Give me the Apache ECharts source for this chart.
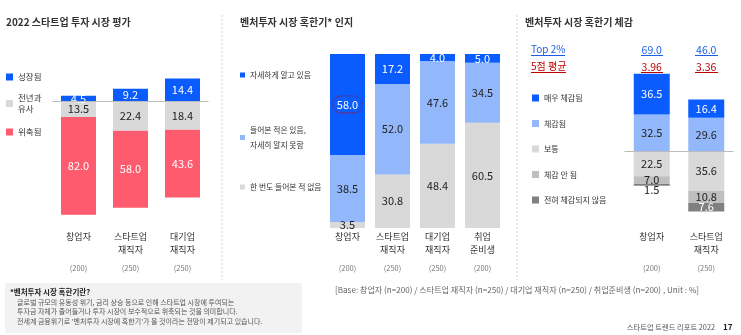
<!DOCTYPE html>
<html><head><meta charset="utf-8">
<script src="https://cdn.jsdelivr.net/npm/echarts@6/dist/echarts.min.js"></script>
<style>html,body{margin:0;padding:0;background:#fff}#c{width:741px;height:335px}</style>
</head><body><div id="c"></div>
<script>
// ---- data ----
const L_CATS = ['창업자', '스타트업\n재직자', '대기업\n재직자'];
const L_N = ['(200)', '(250)', '(250)'];
const L_GROW = [4.5, 9.2, 14.4];
const L_SAME = [13.5, 22.4, 18.4];
const L_SHRINK = [82.0, 58.0, 43.6];

const M_CATS = ['창업자', '스타트업\n재직자', '대기업\n재직자', '취업\n준비생'];
const M_N = ['(200)', '(250)', '(250)', '(200)'];
const M_KNOW = [58.0, 17.2, 4.0, 5.0];
const M_HEARD = [38.5, 52.0, 47.6, 34.5];
const M_NEVER = [3.5, 30.8, 48.4, 60.5];

const R_CATS = ['창업자', '스타트업\n재직자'];
const R_N = ['(200)', '(250)'];
const R_VERY = [36.5, 16.4];
const R_FELT = [32.5, 29.6];
const R_NORMAL = [22.5, 35.6];
const R_NOT = [7.0, 10.8];
const R_NONE = [1.5, 7.6];
const R_TOP2 = [69.0, 46.0];
const R_AVG = [3.96, 3.36];

// ---- styles ----
const FONT = '"Noto Sans CJK KR", "Noto Sans", sans-serif';
const BLUE = '#0b5cff', LBLUE = '#93b7fb', GRAY = '#d9d9d9', RED = '#ff5b6e', MGRAY = '#bfbfbf', DGRAY = '#808080';
const DARK = '#222';

const L_TOTAL = L_CATS.map((_, i) => L_GROW[i] + L_SAME[i] + L_SHRINK[i]);
const share = (arr, sign) => arr.map((v, i) => sign * v / L_TOTAL[i] * 100);

function bar(name, axis, raw, plot, color, labelColor, stack, barWidth, itemLabel) {
  return {
    name, type: 'bar', xAxisIndex: axis, yAxisIndex: axis, stack, barWidth,
    itemStyle: { color },
    label: { show: true, position: 'inside', color: labelColor, fontSize: 11, fontFamily: FONT,
      formatter: p => raw[p.dataIndex].toFixed(1) },
    data: plot.map((v, i) => {
      const d = { value: v };
      if (itemLabel && itemLabel[i]) d.label = itemLabel[i];
      return d;
    }),
    emphasis: { disabled: true }
  };
}

function catLabel(cats, ns) {
  return (v, i) => {
    const p = cats[i].split('\n');
    return '{c|' + p[0] + '}\n{c|' + (p[1] || ' ') + '}\n{n|' + ns[i] + '}';
  };
}
const catRich = { c: { fontSize: 9, lineHeight: 13, color: '#333', fontFamily: FONT },
                  n: { fontSize: 7.5, lineHeight: 23, color: '#777', fontFamily: FONT } };

function xCat(grid, cats, ns, margin) {
  return { type: 'category', gridIndex: grid, data: cats, position: 'bottom',
    axisLine: { show: false }, axisTick: { show: false },
    axisLabel: { interval: 0, margin, formatter: catLabel(cats, ns), rich: catRich } };
}

const zeroLine = { silent: true, symbol: 'none', label: { show: false },
  lineStyle: { color: '#bbb', type: 'solid', width: 1 }, data: [{ yAxis: 0 }] };

const series = [
  // left
  Object.assign(bar('성장됨', 0, L_GROW, share(L_GROW, 1), BLUE, '#fff', 'L', 35), { markLine: zeroLine }),
  bar('전년과\n유사', 0, L_SAME, share(L_SAME, -1), GRAY, DARK, 'L', 35),
  bar('위축됨', 0, L_SHRINK, share(L_SHRINK, -1), RED, '#fff', 'L', 35),
  // middle
  bar('한 번도 들어본 적 없음', 1, M_NEVER, M_NEVER, GRAY, DARK, 'M', 35),
  bar('들어본 적은 있음,\n자세히 알지 못함', 1, M_HEARD, M_HEARD, LBLUE, DARK, 'M', 35),
  bar('자세하게 알고 있음', 1, M_KNOW, M_KNOW, BLUE, '#fff', 'M', 35,
    [{ borderColor: '#c00000', borderWidth: 1, borderType: 'dotted', borderRadius: 9, padding: [3, 4] }]),
  // right
  Object.assign(bar('체감됨', 2, R_FELT, R_FELT, LBLUE, DARK, 'R', 36), { markLine: zeroLine }),
  bar('매우 체감됨', 2, R_VERY, R_VERY, BLUE, '#fff', 'R', 36),
  bar('보통', 2, R_NORMAL, R_NORMAL.map(v => -v), GRAY, DARK, 'R', 36),
  bar('체감 안 됨', 2, R_NOT, R_NOT.map(v => -v), MGRAY, DARK, 'R', 36),
  bar('전혀 체감되지 않음', 2, R_NONE, R_NONE.map(v => -v), DGRAY, '#fff', 'R', 36,
    [{ color: DARK, offset: [0, 5] }])
];

const legBase = { orient: 'vertical', padding: 0, selectedMode: false, icon: 'rect',
  itemWidth: 7, itemHeight: 7, textStyle: { fontSize: 8.5, color: '#333', fontFamily: FONT, lineHeight: 11 } };
const legMid = Object.assign({}, legBase, { itemWidth: 5, itemHeight: 5,
  textStyle: { fontSize: 7.8, color: '#333', fontFamily: FONT, lineHeight: 15 } });

const txt = (text, x, y, size, color, weight, align) => ({
  type: 'text', x, y, silent: true,
  style: { text, fill: color, fontSize: size, fontWeight: weight || 'normal', fontFamily: FONT,
    verticalAlign: 'middle', align: align || 'left' } });
const line = (x1, y1, x2, y2, color, dash) => ({
  type: 'line', silent: true, shape: { x1, y1, x2, y2 },
  style: { stroke: color, lineWidth: 1, lineDash: dash || null } });

const option = {
  animation: false,
  textStyle: { fontFamily: FONT },
  grid: [
    { left: 52.5, width: 156, top: 77.2, height: 142.8 },
    { left: 325, width: 180, top: 54, height: 174 },
    { left: 624.5, width: 109, top: 72.6, height: 145.6 }
  ],
  xAxis: [
    xCat(0, L_CATS, L_N, 10.5),
    xCat(1, M_CATS, M_N, 2.5),
    xCat(2, R_CATS, R_N, 12.3),
    { type: 'category', gridIndex: 2, data: R_CATS, position: 'top', offset: -3,
      axisLine: { show: false }, axisTick: { show: false },
      axisLabel: { interval: 0, margin: 0,
        formatter: (v, i) => '{t|' + R_TOP2[i].toFixed(1) + '}\n{a|' + R_AVG[i].toFixed(2) + '}',
        rich: { t: { fontSize: 10.5, lineHeight: 17, color: '#1a5fe6', fontFamily: FONT },
                a: { fontSize: 10.5, lineHeight: 17, color: '#c00000', fontFamily: FONT } } } }
  ],
  yAxis: [
    { type: 'value', gridIndex: 0, min: -100, max: 20, show: false },
    { type: 'value', gridIndex: 1, min: 0, max: 100, show: false },
    { type: 'value', gridIndex: 2, min: -60, max: 70, show: false }
  ],
  legend: [
    Object.assign({}, legBase, { data: ['성장됨'], left: 6, top: 71.5 }),
    Object.assign({}, legBase, { data: ['전년과\n유사'], left: 6, top: 92.5 }),
    Object.assign({}, legBase, { data: ['위축됨'], left: 6, top: 126.5 }),
    Object.assign({}, legMid, { data: ['자세하게 알고 있음'], left: 240, top: 67.5 }),
    Object.assign({}, legMid, { data: ['들어본 적은 있음,\n자세히 알지 못함'], left: 240, top: 122.5 }),
    Object.assign({}, legMid, { data: ['한 번도 들어본 적 없음'], left: 240, top: 179.5 }),
    Object.assign({}, legBase, { data: ['매우 체감됨', '체감됨', '보통', '체감 안 됨', '전혀 체감되지 않음'],
      left: 532, top: 92.5, itemGap: 14.5, textStyle: { fontSize: 8, color: '#333', fontFamily: FONT, lineHeight: 11 } })
  ],
  graphic: [
    txt('2022 스타트업 투자 시장 평가', 6, 22, 10, '#333', 'bold'),
    txt('벤처투자 시장 혹한기* 인지', 240, 22, 10, '#333', 'bold'),
    txt('벤처투자 시장 혹한기 체감', 525, 22, 10, '#333', 'bold'),
    line(222, 15, 222, 280, '#cfcfcf', [2, 2]),
    line(517, 15, 517, 280, '#cfcfcf', [2, 2]),
    txt('Top 2%', 531, 49, 10, '#1a5fe6'),
    txt('5점 평균', 531, 66, 10, '#c00000'),
    line(531, 55.5, 565, 55.5, '#1a5fe6'),
    line(531, 72.5, 566, 72.5, '#c00000'),
    line(641, 55.5, 663, 55.5, '#1a5fe6'),
    line(695, 55.5, 718, 55.5, '#1a5fe6'),
    line(641, 72.5, 663, 72.5, '#c00000'),
    line(695, 72.5, 718, 72.5, '#c00000'),
    { type: 'rect', silent: true, z: -1, shape: { x: 5, y: 283, width: 297, height: 50 }, style: { fill: '#f2f2f2' } },
    txt('*벤처투자 시장 혹한기란?', 10, 292, 7.5, '#222', 'bold'),
    txt('글로벌 규모의 유동성 위기, 금리 상승 등으로 인해 스타트업 시장에 투여되는', 17, 302, 7, '#555'),
    txt('투자금 자체가 줄어들거나 투자 시장이 보수적으로 위축되는 것을 의미합니다.', 17, 311.5, 7, '#555'),
    txt("전세계 금융위기로 '벤처투자 시장에 혹한기'가 올 것이라는 전망이 제기되고 있습니다.", 17, 321, 7, '#555'),
    txt('[Base: 창업자 (n=200) / 스타트업 재직자 (n=250) / 대기업 재직자 (n=250) / 취업준비생 (n=200) , Unit : %]', 335, 290, 8.1, '#666'),
    txt('스타트업 트렌드 리포트 2022', 715, 327, 7.3, '#555', 'normal', 'right'),
    txt('17', 723, 327, 8, '#222', 'bold')
  ],
  series
};
echarts.init(document.getElementById('c'), null, { renderer: 'canvas' }).setOption(option);
</script></body></html>
